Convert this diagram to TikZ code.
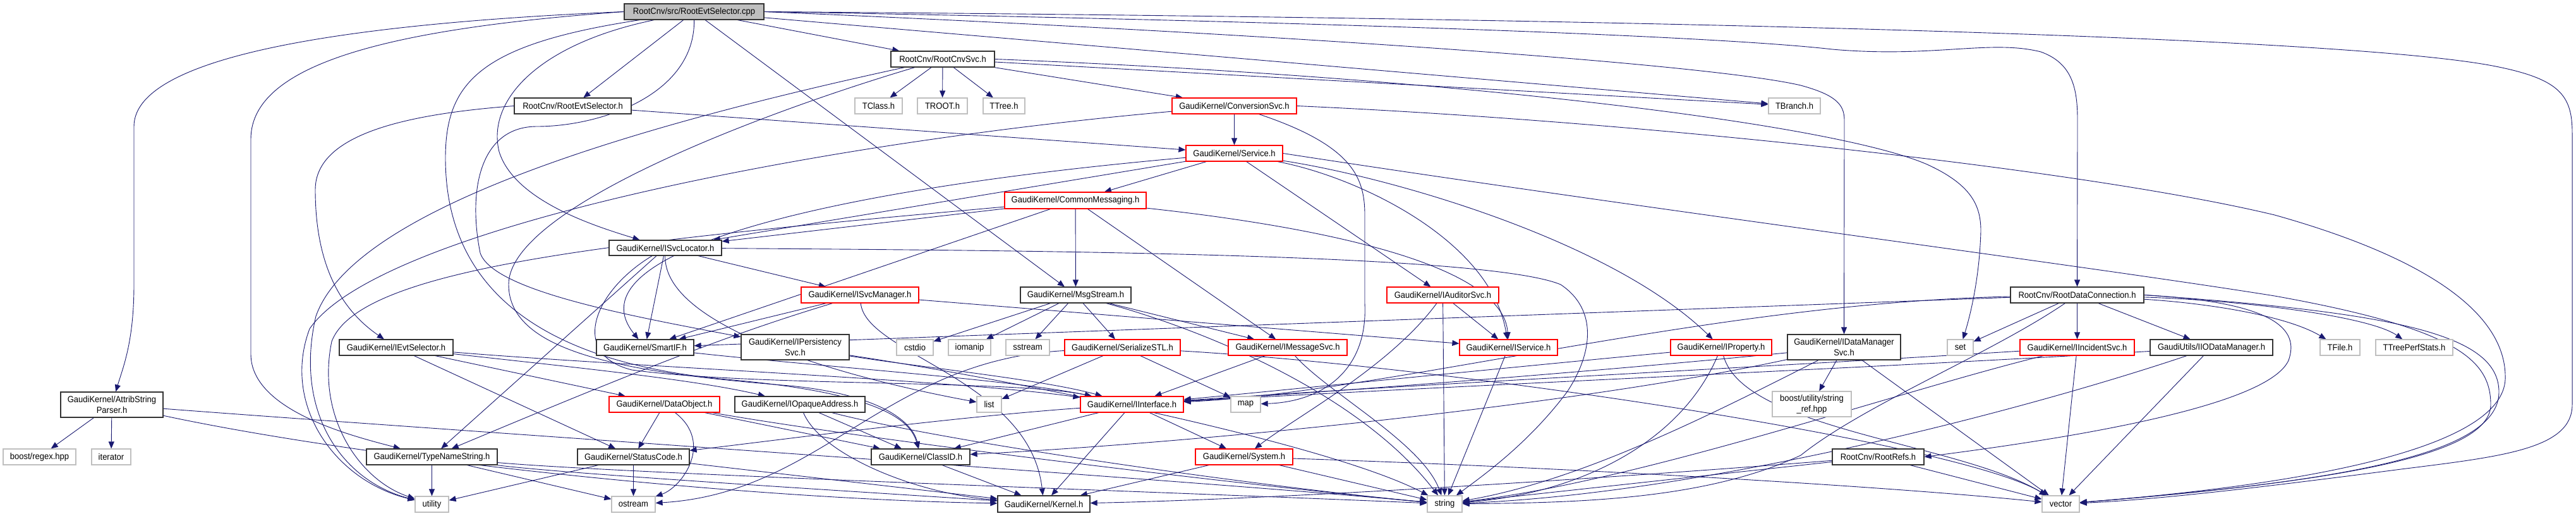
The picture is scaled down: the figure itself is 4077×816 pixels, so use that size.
\documentclass[tikz,border=0pt]{standalone}
\usepackage{fontspec}
\setmainfont[FakeStretch=0.93]{Liberation Sans}
\usetikzlibrary{arrows.meta}
\definecolor{edgec}{HTML}{191970}
\definecolor{sysc}{HTML}{BFBFBF}
\pgfdeclarelayer{bg}
\pgfsetlayers{bg,main}
\tikzset{
  nd/.style={draw=black!80, line width=1.2pt, fill=white, inner sep=0pt, align=center, font=\fontsize{14}{17}\selectfont},
  rd/.style={nd, draw=red},
  sy/.style={nd, draw=sysc},
  rt/.style={nd, fill=sysc},
  e/.style={draw=edgec, line width=0.9pt, -{Triangle[length=11pt,width=9pt]}},
}
\newcommand\mk[7]{\node[#1,minimum width=#5pt,minimum height=#6pt] (#2) at (#3,#4) {#7};}
\begin{document}
\begin{tikzpicture}[x=1pt,y=-1pt]
\useasboundingbox (0,0) rectangle (4077,816);
\mk{rt}{cpp}{1098.5}{18.5}{221}{25}{RootCnv/src/RootEvtSelector.cpp}
\mk{nd}{evth}{906.5}{167.5}{185}{25}{RootCnv/RootEvtSelector.h}
\mk{nd}{cnvsvc}{1492}{93.5}{164}{25}{RootCnv/RootCnvSvc.h}
\mk{sy}{tclass}{1390.5}{167.5}{75}{25}{TClass.h}
\mk{sy}{troot}{1491.5}{167.5}{79}{25}{TROOT.h}
\mk{sy}{ttree}{1589}{167.5}{66}{25}{TTree.h}
\mk{rd}{convsvc}{1953.5}{167.5}{197}{25}{GaudiKernel/ConversionSvc.h}
\mk{sy}{tbranch}{2840}{167.5}{82}{25}{TBranch.h}
\mk{rd}{service}{1953.5}{242.5}{153}{25}{GaudiKernel/Service.h}
\mk{rd}{commsg}{1702}{317}{224}{26}{GaudiKernel/CommonMessaging.h}
\mk{nd}{isvcloc}{1053}{392}{178}{24}{GaudiKernel/ISvcLocator.h}
\mk{rd}{isvcman}{1361}{466.5}{186}{25}{GaudiKernel/ISvcManager.h}
\mk{nd}{msgstream}{1702.5}{466.5}{175}{25}{GaudiKernel/MsgStream.h}
\mk{rd}{iauditor}{2283.5}{466.5}{177}{25}{GaudiKernel/IAuditorSvc.h}
\mk{nd}{rootdc}{3287.5}{466.5}{211}{25}{RootCnv/RootDataConnection.h}
\mk{nd}{attrib}{177}{640}{162}{40}{GaudiKernel/AttribString\\Parser.h}
\mk{nd}{ievtsel}{627}{549.5}{180}{25}{GaudiKernel/IEvtSelector.h}
\mk{nd}{smartif}{1021}{549.5}{154}{25}{GaudiKernel/SmartIF.h}
\mk{nd}{ipers}{1258.5}{549}{171}{40}{GaudiKernel/IPersistency\\Svc.h}
\mk{sy}{cstdio}{1448}{549.5}{58}{25}{cstdio}
\mk{sy}{iomanip}{1534.5}{549.5}{67}{25}{iomanip}
\mk{sy}{sstream}{1626.5}{549.5}{69}{25}{sstream}
\mk{rd}{serial}{1776.5}{549.5}{183}{25}{GaudiKernel/SerializeSTL.h}
\mk{rd}{imsgsvc}{2038}{549.5}{188}{25}{GaudiKernel/IMessageSvc.h}
\mk{rd}{iservice}{2387.5}{549.5}{155}{25}{GaudiKernel/IService.h}
\mk{rd}{iprop}{2724}{549.5}{160}{25}{GaudiKernel/IProperty.h}
\mk{nd}{idatamgr}{2918.5}{549}{179}{40}{GaudiKernel/IDataManager\\Svc.h}
\mk{sy}{set}{3102.5}{549.5}{41}{25}{set}
\mk{rd}{iincid}{3287.5}{549.5}{181}{25}{GaudiKernel/IIncidentSvc.h}
\mk{nd}{iiodm}{3500}{549.5}{194}{25}{GaudiUtils/IIODataManager.h}
\mk{sy}{tfile}{3703.5}{549.5}{63}{25}{TFile.h}
\mk{sy}{tperf}{3821}{549.5}{122}{25}{TTreePerfStats.h}
\mk{sy}{regex}{62.5}{722.5}{115}{25}{boost/regex.hpp}
\mk{sy}{iterator}{176}{722.5}{62}{25}{iterator}
\mk{rd}{dataobj}{1051.5}{639.5}{175}{25}{GaudiKernel/DataObject.h}
\mk{nd}{iopaque}{1266}{639.5}{206}{25}{GaudiKernel/IOpaqueAddress.h}
\mk{sy}{list}{1565.5}{639.5}{39}{25}{list}
\mk{rd}{iinterface}{1791.5}{639.5}{163}{25}{GaudiKernel/IInterface.h}
\mk{sy}{map}{1971.5}{639.5}{47}{25}{map}
\mk{sy}{strref}{2867.5}{639}{125}{40}{boost/utility/string\\\_ref.hpp}
\mk{nd}{typename}{683.5}{722.5}{207}{25}{GaudiKernel/TypeNameString.h}
\mk{nd}{statuscode}{1002.5}{722.5}{177}{25}{GaudiKernel/StatusCode.h}
\mk{nd}{classid}{1457}{722.5}{156}{25}{GaudiKernel/ClassID.h}
\mk{rd}{system}{1969}{722.5}{154}{25}{GaudiKernel/System.h}
\mk{nd}{rootrefs}{2972.5}{722.5}{145}{25}{RootCnv/RootRefs.h}
\mk{sy}{utility}{683.5}{797.5}{53}{25}{utility}
\mk{sy}{ostream}{1002.5}{797.5}{69}{25}{ostream}
\mk{nd}{kernel}{1652}{797}{146}{26}{GaudiKernel/Kernel.h}
\mk{sy}{string}{2286.5}{797}{55}{26}{string}
\mk{sy}{vector}{3261.5}{797}{59}{26}{vector}
\begin{pgfonlayer}{bg}
\fill[white] (0,0) rectangle (4077,816);
% cpp
\draw[e] (cpp.west) .. controls (600,35) and (212,80) .. (212,200) -- (212,450) .. controls (212,540) and (195,580) .. (attrib);
\draw[e] (cpp.west) .. controls (620,45) and (397,100) .. (397,220) -- (397,560) .. controls (397,650) and (560,690) .. (typename);
\draw[e] (cpp) -- (evth);
\draw[e] (cpp) .. controls (850,70) and (770,160) .. (790,240) .. controls (815,320) and (950,360) .. (isvcloc);
\draw[e] (cpp) .. controls (760,70) and (705,130) .. (705,250) .. controls (705,430) and (820,570) .. (1150,600) .. controls (1380,620) and (1440,660) .. (classid);
\draw[e] (cpp) .. controls (1100,150) and (950,200) .. (850,200) .. controls (760,200) and (740,300) .. (760,400) .. controls (780,460) and (1000,500) .. (ipers);
\draw[e] (cpp) -- (msgstream);
\draw[e] (cpp) -- (cnvsvc);
\draw[e] (cpp.east) .. controls (2500,28) and (3700,55) .. (3950,105) .. controls (4050,125) and (4071,150) .. (4071,210) -- (4071,640) .. controls (4071,710) and (3960,722) .. (3800,742) .. controls (3600,768) and (3420,790) .. (vector);
\draw[e] (cpp.east) .. controls (2000,32) and (2700,55) .. (2900,78) .. controls (3060,92) and (3150,62) .. (3230,82) .. controls (3280,100) and (3288,140) .. (3288,190) -- (rootdc);
\draw[e] (cpp.east) .. controls (2000,52) and (2700,100) .. (2850,135) .. controls (2905,150) and (2919,165) .. (2919,190) -- (idatamgr);
\draw[e] (cpp) -- (tbranch);
% evth
\draw[e] (evth.west) .. controls (650,180) and (499,210) .. (499,300) .. controls (499,420) and (540,490) .. (ievtsel);
\draw[e] (evth) -- (service);
% cnvsvc
\draw[e] (cnvsvc) -- (tclass);
\draw[e] (cnvsvc) -- (troot);
\draw[e] (cnvsvc) -- (ttree);
\draw[e] (cnvsvc) -- (convsvc);
\draw[e] (cnvsvc) -- (tbranch);
\draw[e] (cnvsvc.east) .. controls (2300,122) and (2900,195) .. (3050,260) .. controls (3120,292) and (3135,325) .. (3135,365) .. controls (3133,440) and (3118,500) .. (set);
\draw[e] (cnvsvc) .. controls (1000,200) and (560,330) .. (500,500) .. controls (465,650) and (540,760) .. (utility);
\draw[e] (cnvsvc) .. controls (1200,180) and (805,330) .. (805,450) .. controls (805,560) and (1000,590) .. (1250,610) .. controls (1400,625) and (1445,670) .. (classid);
% convsvc
\draw[e] (convsvc) -- (service);
\draw[e] (convsvc) .. controls (1300,225) and (600,360) .. (490,520) .. controls (445,640) and (530,760) .. (utility);
\draw[e] (convsvc) .. controls (2140,230) and (2160,280) .. (2160,340) -- (2160,480) .. controls (2165,580) and (2100,635) .. (map);
\draw[e] (convsvc.east) .. controls (2600,192) and (3300,268) .. (3600,340) .. controls (3850,410) and (3968,500) .. (3965,600) .. controls (3960,700) and (3700,762) .. (vector);
% service
\draw[e] (service) -- (commsg);
\draw[e] (service) -- (isvcloc);
\draw[e] (service) .. controls (1300,300) and (900,400) .. (smartif);
\draw[e] (service) -- (iauditor);
\draw[e] (service) .. controls (2150,280) and (2360,380) .. (iservice);
\draw[e] (service) .. controls (2200,280) and (2550,380) .. (iprop);
\draw[e] (service.east) .. controls (2600,330) and (3300,420) .. (3600,468) .. controls (3890,520) and (3942,570) .. (3942,640) .. controls (3942,720) and (3700,762) .. (vector);
% commsg
\draw[e] (commsg) .. controls (1000,380) and (570,420) .. (525,540) .. controls (500,660) and (570,760) .. (utility);
\draw[e] (commsg) -- (isvcloc);
\draw[e] (commsg) -- (smartif);
\draw[e] (commsg) -- (msgstream);
\draw[e] (commsg) -- (imsgsvc);
\draw[e] (commsg) .. controls (2100,360) and (2380,420) .. (iservice);
% isvcloc
\draw[e] (isvcloc) -- (typename);
\draw[e] (isvcloc) .. controls (940,460) and (900,560) .. (1000,585) .. controls (1200,612) and (1600,600) .. (iinterface);
\draw[e] (isvcloc) -- (smartif);
\draw[e] (isvcloc) -- (isvcman);
\draw[e] (isvcloc) .. controls (1600,396) and (2350,400) .. (2470,450) .. controls (2530,490) and (2520,560) .. (2480,620) .. controls (2420,700) and (2350,750) .. (string);
\draw[e] (isvcloc) .. controls (1050,520) and (1350,600) .. (list);
% isvcman
\draw[e] (isvcman) -- (smartif);
\draw[e] (isvcman) .. controls (1150,530) and (1000,590) .. (typename);
\draw[e] (isvcman) .. controls (1370,560) and (1630,600) .. (kernel);
\draw[e] (isvcman) -- (iservice);
% msgstream
\draw[e] (msgstream) -- (cstdio);
\draw[e] (msgstream) -- (iomanip);
\draw[e] (msgstream) -- (sstream);
\draw[e] (msgstream) -- (serial);
\draw[e] (msgstream) -- (imsgsvc);
\draw[e] (msgstream) .. controls (1900,520) and (2150,620) .. (string);
% iauditor
\draw[e] (iauditor) -- (iservice);
\draw[e] (iauditor) -- (string);
\draw[e] (iauditor) .. controls (2200,580) and (2050,660) .. (system);
% rootdc
\draw[e] (rootdc) -- (smartif);
\draw[e] (rootdc) -- (set);
\draw[e] (rootdc) -- (iincid);
\draw[e] (rootdc) -- (iiodm);
\draw[e] (rootdc) .. controls (3500,480) and (3620,500) .. (tfile);
\draw[e] (rootdc) .. controls (3550,475) and (3750,500) .. (tperf);
\draw[e] (rootdc.east) .. controls (3600,478) and (3640,520) .. (3622,570) .. controls (3590,640) and (3300,690) .. (rootrefs.east);
\draw[e] (rootdc.east) .. controls (3800,495) and (3955,530) .. (3955,620) .. controls (3955,720) and (3700,762) .. (vector);
\draw[e] (rootdc) .. controls (3150,560) and (2950,640) .. (2850,720) .. controls (2700,790) and (2500,795) .. (string);
\draw[e] (rootdc) .. controls (2700,480) and (2200,620) .. (iinterface);
% attrib
\draw[e] (attrib) -- (regex);
\draw[e] (attrib) -- (iterator);
\draw[e] (attrib) .. controls (700,680) and (1900,760) .. (string);
\draw[e] (attrib) .. controls (600,730) and (1200,790) .. (kernel);
% ievtsel
\draw[e] (ievtsel) -- (statuscode);
\draw[e] (ievtsel) .. controls (1000,580) and (1500,600) .. (iinterface);
\draw[e] (ievtsel) .. controls (900,580) and (1100,600) .. (iopaque);
\draw[e] (ievtsel) -- (dataobj);
% others
\draw[e] (smartif) .. controls (1300,580) and (1600,600) .. (iinterface);
\draw[e] (ipers) .. controls (1450,580) and (1650,600) .. (iinterface);
\draw[e] (ipers) .. controls (1600,600) and (2100,700) .. (string);
\draw[e] (serial) -- (list);
\draw[e] (serial) -- (map);
\draw[e] (serial) .. controls (2300,580) and (3100,700) .. (vector);
\draw[e] (serial) .. controls (1400,570) and (1300,780) .. (ostream);
\draw[e] (imsgsvc) -- (iinterface);
\draw[e] (imsgsvc) .. controls (2100,620) and (2250,700) .. (string);
\draw[e] (iservice) -- (string);
\draw[e] (iprop) .. controls (2400,580) and (2000,620) .. (iinterface);
\draw[e] (iprop) .. controls (2660,700) and (2500,780) .. (string);
\draw[e] (iprop) .. controls (2760,680) and (3100,700) .. (vector);
\draw[e] (idatamgr) -- (strref);
\draw[e] (idatamgr) -- (vector);
\draw[e] (idatamgr) .. controls (2700,660) and (2500,760) .. (string);
\draw[e] (idatamgr) .. controls (2500,590) and (2100,620) .. (iinterface);
\draw[e] (idatamgr) .. controls (2500,640) and (1900,700) .. (classid);
\draw[e] (iincid) -- (vector);
\draw[e] (iincid) .. controls (3000,620) and (2600,760) .. (string);
\draw[e] (iincid) .. controls (2800,580) and (2200,610) .. (iinterface);
\draw[e] (iiodm) -- (vector);
\draw[e] (iiodm) .. controls (3200,650) and (2700,780) .. (string);
\draw[e] (iiodm) .. controls (3000,580) and (2300,610) .. (iinterface);
\draw[e] (dataobj) -- (statuscode);
\draw[e] (dataobj) .. controls (1130,700) and (1080,770) .. (ostream);
\draw[e] (dataobj) -- (classid);
\draw[e] (dataobj) .. controls (1400,700) and (2000,770) .. (string);
\draw[e] (iopaque) -- (classid);
\draw[e] (iopaque) .. controls (1300,720) and (1450,780) .. (kernel);
\draw[e] (iopaque) .. controls (1500,700) and (2000,770) .. (string);
\draw[e] (iinterface) -- (system);
\draw[e] (iinterface) -- (kernel);
\draw[e] (iinterface) .. controls (1500,660) and (1200,700) .. (statuscode);
\draw[e] (iinterface) -- (classid);
\draw[e] (typename) -- (utility);
\draw[e] (typename) -- (ostream);
\draw[e] (typename) .. controls (1000,750) and (1900,780) .. (string);
\draw[e] (typename) .. controls (900,750) and (1400,780) .. (kernel);
\draw[e] (statuscode) -- (utility);
\draw[e] (statuscode) -- (ostream);
\draw[e] (statuscode) -- (kernel);
\draw[e] (classid) -- (kernel);
\draw[e] (system) -- (kernel);
\draw[e] (system) -- (string);
\draw[e] (system) .. controls (2500,740) and (3000,770) .. (vector);
\draw[e] (rootrefs) -- (string);
\draw[e] (rootrefs) -- (vector);
\draw[e] (rootrefs) .. controls (2500,760) and (2000,790) .. (kernel);
\end{pgfonlayer}
\end{tikzpicture}
\end{document}
